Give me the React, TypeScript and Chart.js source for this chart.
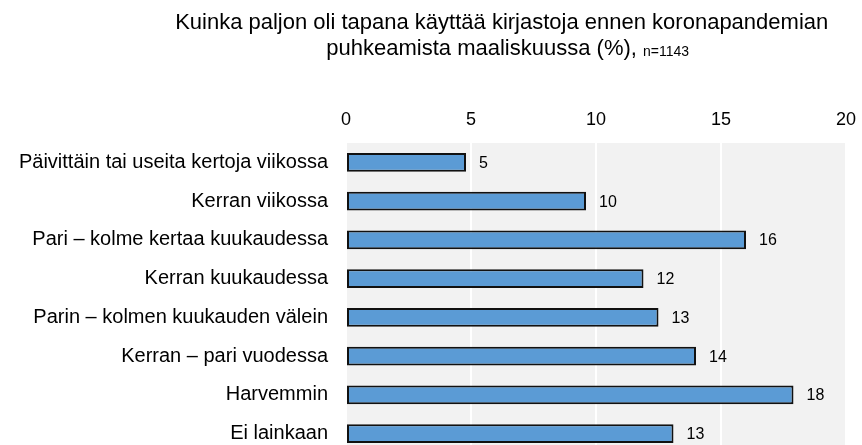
import React, { useEffect, useRef } from "react";
import { Chart, registerables } from "chart.js";

Chart.register(...registerables);

const categories = [
  "Päivittäin tai useita kertoja viikossa",
  "Kerran viikossa",
  "Pari – kolme kertaa kuukaudessa",
  "Kerran kuukaudessa",
  "Parin – kolmen kuukauden välein",
  "Kerran – pari vuodessa",
  "Harvemmin",
  "Ei lainkaan",
];
const values = [4.8, 9.6, 16.0, 11.9, 12.5, 14.0, 17.9, 13.1];
const valueLabels = ["5", "10", "16", "12", "13", "14", "18", "13"];
const xTicks = [0, 5, 10, 15, 20];
const titleLine1 = "Kuinka paljon oli tapana käyttää kirjastoja ennen koronapandemian";
const titleLine2 = "puhkeamista maaliskuussa (%), ";
const titleNote = "n=1143";

const FONT = '"Liberation Sans", Arial, sans-serif';

export default function App() {
  const ref = useRef<HTMLCanvasElement | null>(null);

  useEffect(() => {
    if (!ref.current) return;

    const bgPlugin = {
      id: "plotBg",
      beforeDraw(chart: any) {
        const { ctx, chartArea } = chart;
        ctx.save();
        ctx.fillStyle = "#f2f2f2";
        ctx.fillRect(chartArea.left, chartArea.top, chartArea.right - chartArea.left, chartArea.bottom - chartArea.top);
        ctx.restore();
      },
    };

    const titlePlugin = {
      id: "customTitle",
      afterDraw(chart: any) {
        const { ctx } = chart;
        const cx = chart.width * 0.582;
        ctx.save();
        ctx.fillStyle = "#000";
        ctx.textBaseline = "middle";
        ctx.textAlign = "center";
        ctx.font = `22px ${FONT}`;
        ctx.fillText(titleLine1, cx, 23);
        const w1 = ctx.measureText(titleLine2).width;
        ctx.font = `14px ${FONT}`;
        const w2 = ctx.measureText(titleNote).width;
        const start = cx + 6 - (w1 + w2) / 2;
        ctx.textAlign = "left";
        ctx.font = `22px ${FONT}`;
        ctx.fillText(titleLine2, start, 49);
        ctx.font = `14px ${FONT}`;
        ctx.fillText(titleNote, start + w1, 52);
        ctx.restore();
      },
    };

    const labelPlugin = {
      id: "valueLabels",
      afterDatasetsDraw(chart: any) {
        const { ctx } = chart;
        const meta = chart.getDatasetMeta(0);
        ctx.save();
        ctx.fillStyle = "#000";
        ctx.font = `16px ${FONT}`;
        ctx.textAlign = "left";
        ctx.textBaseline = "middle";
        meta.data.forEach((bar: any, i: number) => {
          ctx.fillText(valueLabels[i], bar.x + 13, bar.y + 1);
        });
        ctx.restore();
      },
    };

    const chart = new Chart(ref.current, {
      type: "bar",
      data: {
        labels: categories,
        datasets: [
          {
            data: values,
            backgroundColor: "#5b9bd5",
            borderColor: "#111111",
            borderWidth: 2,
            borderSkipped: false,
            barPercentage: 0.7,
            categoryPercentage: 0.7,
          },
        ],
      },
      options: {
        indexAxis: "y",
        responsive: false,
        animation: false,
        devicePixelRatio: 1,
        layout: { padding: { left: 0, right: 16, top: 0, bottom: 0 } },
        plugins: {
          legend: { display: false },
          title: { display: false },
          tooltip: { enabled: false },
        },
        scales: {
          x: {
            position: "top",
            min: 0,
            max: 20,
            afterBuildTicks(scale: any) {
              scale.ticks = xTicks.map((v) => ({ value: v }));
            },
            afterFit(scale: any) {
              scale.height = 143;
              scale.paddingLeft = 0;
              scale.paddingRight = 0;
              scale.paddingTop = 0;
              scale.paddingBottom = 0;
            },
            ticks: {
              font: { family: FONT, size: 18 },
              color: "#000",
              padding: 12,
            },
            grid: { color: "#ffffff", lineWidth: 2, drawTicks: false },
            border: { display: false },
          },
          y: {
            afterFit(scale: any) {
              scale.width = 346;
              scale.paddingLeft = 0;
              scale.paddingRight = 0;
              scale.paddingTop = 0;
              scale.paddingBottom = 0;
            },
            ticks: {
              font: { family: FONT, size: 20 },
              color: "#000",
              padding: 18,
            },
            grid: { display: false, drawTicks: false },
            border: { display: false },
          },
        },
      },
      plugins: [bgPlugin, labelPlugin, titlePlugin],
    });

    return () => chart.destroy();
  }, []);

  return (
    <div style={{ position: "fixed", left: 0, top: 0, width: 862, height: 453 }}>
      <canvas ref={ref} width={862} height={453} />
    </div>
  );
}
